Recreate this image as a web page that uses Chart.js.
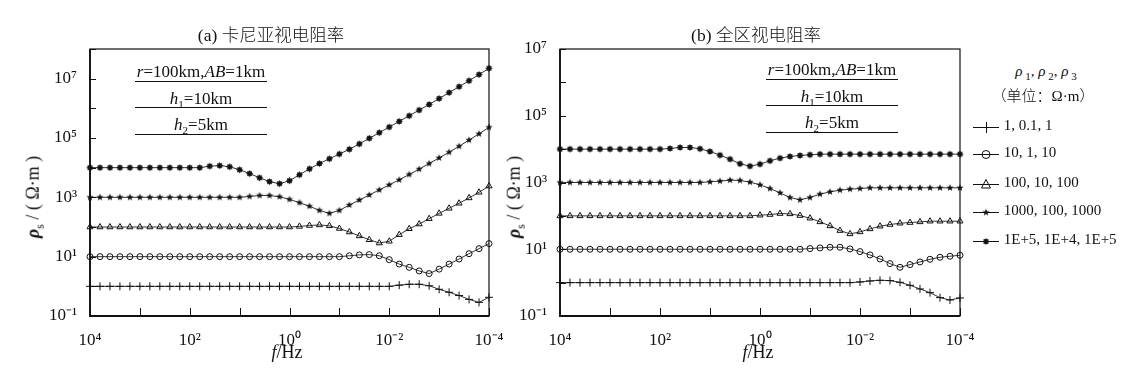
<!DOCTYPE html>
<html>
<head>
<meta charset="utf-8">
<script src="https://cdn.jsdelivr.net/npm/chart.js@4.4.0/dist/chart.umd.min.js"></script>
<style>
  body { margin: 0; width: 1124px; height: 376px; position: relative; overflow: hidden; background: #fff;
         font-family: "Liberation Serif", "DejaVu Serif", serif; color: #111; }
  canvas { position: absolute; top: 0; }
  .cn { font-family: "Noto Sans CJK SC"; font-weight: 300; }
  .c { position: absolute; white-space: nowrap; text-align: center; color: #111; }
  .yt { position: absolute; white-space: nowrap; font-size: 18px; transform: translate(-50%, -50%) rotate(-90deg); }
  .box { position: absolute; width: 132px; font-size: 17px; text-align: center; }
  .box div { height: 25.5px; line-height: 33px; border-bottom: 1.5px solid #111; }
  .leg { position: absolute; left: 972px; top: 40px; font-size: 15px; }
  .leg canvas { position: static; vertical-align: middle; }
  .li { position: absolute; white-space: nowrap; color: #111; }
</style>
</head>
<body>
<canvas id="chartA" width="505" height="376" style="left:0"></canvas>
<canvas id="chartB" width="490" height="376" style="left:495px"></canvas>

<div class="c" style="left:171px;width:200px;top:21px;font-size:17.5px">(a) <span class="cn">卡尼亚视电阻率</span></div>
<div class="c" style="left:656px;width:200px;top:21px;font-size:17.5px">(b) <span class="cn">全区视电阻率</span></div>

<div class="c" style="left:237px;width:100px;top:342px;font-size:18px"><i>f</i>/Hz</div>
<div class="c" style="left:708px;width:100px;top:342px;font-size:18px"><i>f</i>/Hz</div>
<div class="yt" style="left:35px;top:197px"><b><i>ρ</i></b><sub style="font-size:12px">s</sub> / ( Ω·m )</div>
<div class="yt" style="left:516px;top:197px"><b><i>ρ</i></b><sub style="font-size:12px">s</sub> / ( Ω·m )</div>

<div class="box" style="left:135px;top:55px">
  <div><i>r</i>=100km,<i>AB</i>=1km</div>
  <div><i>h</i><sub style="font-size:11px">1</sub>=10km</div>
  <div><i>h</i><sub style="font-size:11px">2</sub>=5km</div>
</div>
<div class="box" style="left:766px;top:53px">
  <div><i>r</i>=100km,<i>AB</i>=1km</div>
  <div><i>h</i><sub style="font-size:11px">1</sub>=10km</div>
  <div><i>h</i><sub style="font-size:11px">2</sub>=5km</div>
</div>

<div class="c" style="left:986px;width:120px;top:63px;font-size:15px"><i>ρ</i><sub style="font-size:11px"> 1</sub>, <i>ρ</i><sub style="font-size:11px"> 2</sub>, <i>ρ</i><sub style="font-size:11px"> 3</sub></div>
<div class="c" style="left:983px;width:120px;top:84px;font-size:15px"><span class="cn">（单位：</span>Ω·m<span class="cn">）</span></div>
<div class="leg" id="legend"></div>

<script>
// frequencies, Hz (plotted from high to low)
const freq = [10000, 6310, 3981, 2512, 1585, 1000, 631, 398.1, 251.2, 158.5,
  100, 63.1, 39.81, 25.12, 15.85, 10, 6.31, 3.981, 2.512, 1.585,
  1, 0.631, 0.3981, 0.2512, 0.1585, 0.1, 0.0631, 0.03981, 0.02512, 0.01585,
  0.01, 0.00631, 0.003981, 0.002512, 0.001585, 0.001, 0.000631, 0.0003981, 0.0002512, 0.0001585,
  0.0001];

const seriesNames = ['1, 0.1, 1', '10, 1, 10', '100, 10, 100', '1000, 100, 1000', '1E+5, 1E+4, 1E+5'];

// (a) Cagniard apparent resistivity
const cagniard1 = [1, 1, 1, 1, 1, 1, 1, 1, 1, 1,
  1, 1, 1, 1, 1, 1, 1, 1, 1, 1,
  1, 1, 1, 1, 1, 1, 1, 1, 1, 1,
  1, 1.096, 1.175, 1.175, 1.047, 0.794, 0.631, 0.490, 0.363, 0.288,
  0.427];
const cagniard2 = [10, 10, 10, 10, 10, 10, 10, 10, 10, 10,
  10, 10, 10, 10, 10, 10, 10, 10, 10, 10,
  10, 10, 10, 10, 10, 10, 10.72, 11.48, 11.75, 10.72,
  7.94, 5.62, 4.37, 3.31, 2.69, 3.80, 5.62, 8.32, 12.59, 18.62,
  27.54];
const cagniard3 = [100, 100, 100, 100, 100, 100, 100, 100, 100, 100,
  100, 100, 100, 100, 100, 100, 100, 100, 100, 100,
  100, 104.7, 112.2, 117.5, 109.6, 89.1, 67.6, 50.1, 37.2, 28.8,
  33.1, 55.0, 87.1, 125.9, 190.5, 288.4, 426.6, 631, 955, 1479,
  2399];
const cagniard4 = [1000, 1000, 1000, 1000, 1000, 1000, 1000, 1000, 1000, 1000,
  1000, 1000, 1000, 1000, 1000, 1000, 1072, 1148, 1148, 1047,
  851, 661, 501, 363, 288, 363, 550, 813, 1202, 1778,
  2630, 3890, 5888, 8913, 13800, 21380, 33110, 52480, 85110, 138000,
  229100];
const cagniard5 = [1e4, 1e4, 1e4, 1e4, 1e4, 1e4, 1e4, 1e4, 1e4, 1e4,
  1e4, 1e4, 11220, 11750, 10720, 8511, 6310, 4571, 3388, 2884,
  3631, 5754, 9120, 13800, 19950, 28840, 41690, 63100, 97720, 151400,
  234400, 363100, 562300, 871000, 1349000, 2138000, 3388000, 5370000, 8511000, 13800000,
  22390000];

// (b) whole-zone apparent resistivity
const wholeZone1 = [1, 1, 1, 1, 1, 1, 1, 1, 1, 1,
  1, 1, 1, 1, 1, 1, 1, 1, 1, 1,
  1, 1, 1, 1, 1, 1, 1, 1, 1, 1,
  1.047, 1.122, 1.175, 1.148, 1.023, 0.832, 0.646, 0.501, 0.355, 0.302,
  0.347];
const wholeZone2 = [10, 10, 10, 10, 10, 10, 10, 10, 10, 10,
  10, 10, 10, 10, 10, 10, 10, 10, 10, 10,
  10, 10, 10, 10, 10, 10.47, 10.96, 11.48, 11.48, 10.23,
  8.51, 6.76, 5.13, 3.72, 2.88, 3.47, 4.17, 5.01, 5.75, 6.17,
  6.61];
const wholeZone3 = [100, 100, 100, 100, 100, 100, 100, 100, 100, 100,
  100, 100, 100, 100, 100, 100, 100, 100, 100, 100,
  104.7, 109.6, 117.5, 114.8, 102.3, 85.1, 66.1, 50.1, 36.3, 28.8,
  33.1, 40.7, 49.0, 55.0, 60.3, 63.1, 66.1, 69.2, 69.2, 69.2,
  69.2];
const wholeZone4 = [1000, 1000, 1000, 1000, 1000, 1000, 1000, 1000, 1000, 1000,
  1000, 1000, 1000, 1000, 1000, 1047, 1096, 1175, 1148, 1023,
  851, 661, 490, 355, 302, 355, 447, 525, 589, 631,
  661, 692, 692, 692, 692, 692, 692, 692, 692, 692,
  692];
const wholeZone5 = [1e4, 1e4, 1e4, 1e4, 1e4, 1e4, 1e4, 1e4, 1e4, 1e4,
  1e4, 10470, 11220, 11220, 10230, 8511, 6607, 5012, 3631, 3090,
  3548, 4467, 5370, 6026, 6457, 6761, 7079, 7079, 7079, 7079,
  7079, 7079, 7079, 7079, 7079, 7079, 7079, 7079, 7079, 7079,
  7079];

// tick marks and labels
const xTickValues = [1e-4, 1e-3, 1e-2, 1e-1, 1, 10, 100, 1e3, 1e4];
const xTickLabels = ['10⁻⁴', '', '10⁻²', '', '10⁰', '', '10²', '', '10⁴'];
const yTickValuesA = [0.1, 1, 10, 100, 1e3, 1e4, 1e5, 1e6, 1e7, 1e8];
const yTickLabelsA = ['10⁻¹', '', '10¹', '', '10³', '', '10⁵', '', '10⁷', ''];
const yTickValuesB = [0.1, 1, 10, 100, 1e3, 1e4, 1e5, 1e6, 1e7];
const yTickLabelsB = ['10⁻¹', '', '10¹', '', '10³', '', '10⁵', '', '10⁷'];

const ink = '#111';

// filled star markers drawn on small canvases
function starIcon(points, rOut, rIn) {
  const c = document.createElement('canvas');
  const s = Math.ceil(rOut * 2 + 2);
  c.width = s; c.height = s;
  const g = c.getContext('2d');
  g.fillStyle = ink;
  g.beginPath();
  for (let i = 0; i < points * 2; i++) {
    const r = i % 2 ? rIn : rOut;
    const a = -Math.PI / 2 + i * Math.PI / points;
    const px = s / 2 + r * Math.cos(a), py = s / 2 + r * Math.sin(a);
    i ? g.lineTo(px, py) : g.moveTo(px, py);
  }
  g.closePath();
  g.fill();
  return c;
}
const star5 = starIcon(5, 3.8, 1.6);
const star8 = starIcon(8, 3.5, 2.4);

const pointStyles = ['cross', 'circle', 'triangle', star5, star8];
const pointRadii = [4, 3, 3.5, 4, 4];

const frame = {
  id: 'frame',
  afterDraw(chart) {
    const { ctx, chartArea: a, scales: { x, y } } = chart;
    ctx.save();
    ctx.strokeStyle = ink;
    ctx.lineWidth = 1.2;
    ctx.strokeRect(a.left, a.top, a.right - a.left, a.bottom - a.top);
    ctx.lineWidth = 1.8;
    ctx.beginPath();
    ctx.moveTo(a.left, a.top); ctx.lineTo(a.left, a.bottom); ctx.lineTo(a.right, a.bottom);
    ctx.stroke();
    ctx.lineWidth = 1;
    ctx.beginPath();
    x.ticks.forEach(t => {
      const px = Math.round(x.getPixelForValue(t.value)) + 0.5;
      ctx.moveTo(px, a.bottom); ctx.lineTo(px, a.bottom - 8);
    });
    y.ticks.forEach(t => {
      const py = Math.round(y.getPixelForValue(t.value)) + 0.5;
      ctx.moveTo(a.left, py); ctx.lineTo(a.left + 6, py);
    });
    ctx.stroke();
    ctx.restore();
  }
};

function makeChart(id, series, yMax, yTicks, yLabels, yWidth, padRight) {
  const font = { family: 'Liberation Serif', size: 17 };
  new Chart(document.getElementById(id), {
    type: 'line',
    data: {
      datasets: series.map((vals, k) => ({
        label: seriesNames[k],
        data: freq.map((f, i) => ({ x: f, y: vals[i] })),
        borderColor: '#333',
        borderWidth: 1,
        pointStyle: pointStyles[k],
        pointRadius: pointRadii[k],
        pointBorderColor: ink,
        pointBackgroundColor: 'rgba(0,0,0,0)',
        pointBorderWidth: 1,
        tension: 0,
        clip: false
      }))
    },
    options: {
      responsive: false,
      animation: false,
      layout: { padding: { top: 49, right: padRight, left: 0, bottom: 0 } },
      plugins: { legend: { display: false }, tooltip: { enabled: false } },
      scales: {
        x: {
          type: 'logarithmic', reverse: true, min: 1e-4, max: 1e4,
          grid: { display: false }, border: { display: false },
          afterBuildTicks: s => { s.ticks = xTickValues.map(v => ({ value: v })); },
          afterFit: s => { s.height = 60; s.paddingLeft = 0; s.paddingRight = 0; },
          ticks: { font, color: ink, padding: 6, autoSkip: false, maxRotation: 0,
                   callback: (v, i) => xTickLabels[i] }
        },
        y: {
          type: 'logarithmic', min: 0.1, max: yMax,
          grid: { display: false }, border: { display: false },
          afterBuildTicks: s => { s.ticks = yTicks.map(v => ({ value: v })); },
          afterFit: s => { s.width = yWidth; s.paddingTop = 0; s.paddingBottom = 0; },
          ticks: { font, color: ink, padding: 5, autoSkip: false,
                   callback: (v, i) => yLabels[i] }
        }
      }
    },
    plugins: [frame]
  });
}

makeChart('chartA', [cagniard1, cagniard2, cagniard3, cagniard4, cagniard5], 1e8, yTickValuesA, yTickLabelsA, 90, 16);
makeChart('chartB', [wholeZone1, wholeZone2, wholeZone3, wholeZone4, wholeZone5], 1e7, yTickValuesB, yTickLabelsB, 65, 25);

// legend: line with marker, then text
const legend = document.getElementById('legend');
const legendTops = [126, 153, 183, 211, 240];
seriesNames.forEach((name, k) => {
  const row = document.createElement('div');
  row.className = 'li';
  row.style.top = (legendTops[k] - 40 - 9) + 'px';
  const c = document.createElement('canvas');
  c.width = 28; c.height = 16;
  const g = c.getContext('2d');
  g.strokeStyle = ink; g.lineWidth = 1;
  g.beginPath(); g.moveTo(1, 8.5); g.lineTo(27, 8.5); g.stroke();
  g.beginPath();
  if (k === 0) { g.moveTo(14.5, 3); g.lineTo(14.5, 14); g.stroke(); }
  if (k === 1) { g.arc(14, 8.5, 4, 0, Math.PI * 2); g.stroke(); }
  if (k === 2) { g.moveTo(14, 3.5); g.lineTo(18.5, 12); g.lineTo(9.5, 12); g.closePath(); g.stroke(); }
  if (k > 2) { const ic = pointStyles[k]; g.drawImage(ic, 14 - ic.width / 2, 8.5 - ic.height / 2); }
  row.appendChild(c);
  const s = document.createElement('span');
  s.textContent = ' ' + name;
  row.appendChild(s);
  legend.appendChild(row);
});
</script>
</body>
</html>
